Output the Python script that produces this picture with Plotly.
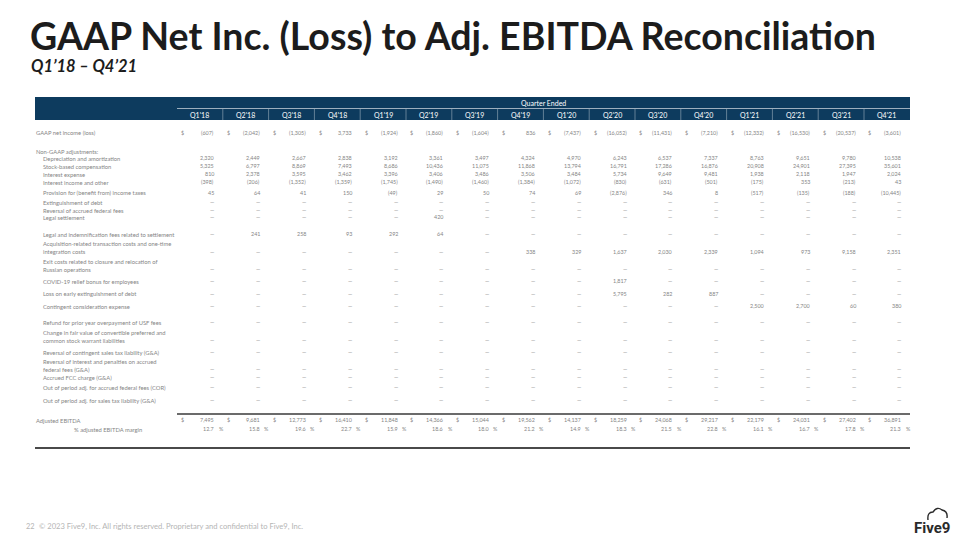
import plotly.graph_objects as go

# ---------------- data ----------------
quarters = ["Q1'18", "Q2'18", "Q3'18", "Q4'18", "Q1'19", "Q2'19", "Q3'19", "Q4'19",
            "Q1'20", "Q2'20", "Q3'20", "Q4'20", "Q1'21", "Q2'21", "Q3'21", "Q4'21"]
N = None
gaap_net_income = [-607, -2042, -1305, 3733, -1924, -1860, -1604, 836,
                   -7437, -16052, -11431, -7210, -12332, -16530, -20537, -3601]
depreciation = [2320, 2449, 2667, 2838, 3192, 3361, 3497, 4324, 4970, 6243, 6537, 7337, 8763, 9651, 9780, 10538]
stock_comp = [5325, 6797, 8869, 7493, 8686, 10436, 11075, 11868, 13794, 16791, 17286, 16876, 20908, 24901, 27395, 35601]
interest_expense = [810, 2378, 3595, 3462, 3396, 3406, 3486, 3506, 3484, 5734, 9649, 9481, 1938, 2118, 1947, 2024]
interest_income = [-398, -206, -1352, -1359, -1745, -1490, -1460, -1384, -1072, -830, -631, -501, -175, 353, -213, 43]
income_taxes = [45, 64, 41, 150, -49, 29, 50, 74, 69, -2876, 346, 8, -517, -135, -188, -10445]
extinguishment = [N] * 16
reversal_fed_fees = [N] * 16
legal_settlement = [N, N, N, N, N, 420, N, N, N, N, N, N, N, N, N, N]
legal_fees = [N, 241, 258, 93, 292, 64, N, N, N, N, N, N, N, N, N, N]
acquisition_costs = [N, N, N, N, N, N, N, 338, 329, 1637, 2030, 2339, 1094, 973, 9158, 2351]
exit_costs = [N] * 16
covid_bonus = [N, N, N, N, N, N, N, N, N, 1817, N, N, N, N, N, N]
loss_early_ext = [N, N, N, N, N, N, N, N, N, 5795, 282, 887, N, N, N, N]
contingent_consideration = [N, N, N, N, N, N, N, N, N, N, N, N, 2500, 2700, 60, 380]
usf_refund = [N] * 16
fair_value_change = [N] * 16
reversal_sales_tax = [N] * 16
reversal_interest_penalties = [N] * 16
accrued_fcc = [N] * 16
oop_federal_fees = [N] * 16
oop_sales_tax = [N] * 16
adjusted_ebitda = [7495, 9681, 12773, 16410, 11848, 14366, 15044, 19562,
                   14137, 18259, 24068, 29217, 22179, 24031, 27402, 36891]
ebitda_margin = [12.7, 15.8, 19.6, 22.7, 15.9, 18.6, 18.0, 21.2, 14.9, 18.3, 21.5, 22.8, 16.1, 16.7, 17.8, 21.3]

row_labels = [
    "Depreciation and amortization", "Stock-based compensation", "Interest expense",
    "Interest income and other", "Provision for (benefit from) income taxes",
    "Extinguishment of debt", "Reversal of accrued federal fees", "Legal settlement",
    "Legal and indemnification fees related to settlement",
    "Acquisition-related transaction costs and one-time<br>integration costs",
    "Exit costs related to closure and relocation of<br>Russian operations",
    "COVID-19 relief bonus for employees", "Loss on early extinguishment of debt",
    "Contingent consideration expense", "Refund for prior year overpayment of USF fees",
    "Change in fair value of convertible preferred and<br>common stock warrant liabilities",
    "Reversal of contingent sales tax liability (G&A)",
    "Reversal of interest and penalties on accrued<br>federal fees (G&A)",
    "Accrued FCC charge (G&A)", "Out of period adj. for accrued federal fees (COR)",
    "Out of period adj. for sales tax liability (G&A)",
]
row_values = [depreciation, stock_comp, interest_expense, interest_income, income_taxes,
              extinguishment, reversal_fed_fees, legal_settlement, legal_fees, acquisition_costs,
              exit_costs, covid_bonus, loss_early_ext, contingent_consideration, usf_refund,
              fair_value_change, reversal_sales_tax, reversal_interest_penalties, accrued_fcc,
              oop_federal_fees, oop_sales_tax]

# ---------------- layout constants ----------------
row_y = [158.3, 166.3, 174.2, 182.3, 192.7, 202.3, 210.0, 217.3, 234.0, 251.5, 269.3,
         281.0, 293.7, 306.0, 322.3, 340.0, 352.0, 369.0, 377.3, 387.0, 400.0]
COL0, COLW = 177.0, 45.8
VAL_OFF, DOL_OFF = 38.3, 3.3
LX, IX = 35.0, 42.0
TXT = "#858585"
NAVY = "#0d3b5e"
FONT = "Lato"
FS = 5.4      # value font size
FSL = 5.8     # row label font size
PAGE_PAD = 8  # default body margin of the html page


def fmt(v):
    if v is None:
        return "\u2014"
    s = f"{abs(v):,}"
    return f"({s})" if v < 0 else s


fig = go.Figure()
fig.add_trace(go.Scatter(x=[PAGE_PAD, 960], y=[PAGE_PAD, 540], mode="markers",
                         marker=dict(opacity=0), hoverinfo="skip", showlegend=False))

ann = []
shapes = []


def text(x, y, s, size=FS, color=TXT, xa="left", bold=False, family=FONT, italic=False):
    if bold:
        s = f"<b>{s}</b>"
    if italic:
        s = f"<i>{s}</i>"
    ann.append(dict(x=x, y=y, xref="x", yref="y", text=s, showarrow=False, xanchor=xa,
                    yanchor="middle", align="left", borderpad=0,
                    font=dict(size=size, color=color, family=family)))


# title
text(29, 35.5, "GAAP Net Inc. (Loss) to Adj. EBITDA Reconciliation", size=37.5, color="#1c1c1c",
     bold=True)
text(30, 65.5, "Q1\u201918 \u2013 Q4\u201921", size=16.5, color="#1c1c1c", bold=True, italic=True)

# header band
shapes.append(dict(type="rect", xref="x", yref="y", x0=35, x1=910, y0=97, y1=120,
                   fillcolor=NAVY, line=dict(width=0), layer="below"))
shapes.append(dict(type="line", xref="x", yref="y", x0=COL0, x1=910, y0=108.5, y1=108.5,
                   line=dict(color="rgba(255,255,255,0.75)", width=0.8)))
for i in range(1, len(quarters)):
    xb = COL0 + i * COLW
    shapes.append(dict(type="line", xref="x", yref="y", x0=xb, x1=xb, y0=109, y1=120,
                       line=dict(color="rgba(255,255,255,0.45)", width=0.8)))
text((COL0 + 910) / 2, 103, "Quarter Ended", size=7, color="white", xa="center")
for i, q in enumerate(quarters):
    text(COL0 + i * COLW + COLW / 2, 114.5, q, size=7, color="white", xa="center")

# GAAP net income row
text(LX, 132.7, "GAAP net income (loss)", size=FSL)
for i, v in enumerate(gaap_net_income):
    left = COL0 + i * COLW
    text(left + DOL_OFF, 132.7, "$")
    text(left + VAL_OFF, 132.7, fmt(v), xa="right")

text(LX, 151.7, "Non-GAAP adjustments:", size=FSL)

for lab, vals, y in zip(row_labels, row_values, row_y):
    nlines = lab.count("<br>") + 1
    ly = y - (nlines - 1) * 3.7
    text(IX, ly, lab, size=FSL)
    for i, v in enumerate(vals):
        left = COL0 + i * COLW
        text(left + VAL_OFF, y, fmt(v), xa="right")

# totals
shapes.append(dict(type="line", xref="x", yref="y", x0=COL0, x1=910, y0=414, y1=414,
                   line=dict(color="#3a3a3a", width=1.6)))
text(LX, 420.3, "Adjusted EBITDA", size=FSL)
text(73, 429, "% adjusted EBITDA margin", size=FSL)
for i, (v, m) in enumerate(zip(adjusted_ebitda, ebitda_margin)):
    left = COL0 + i * COLW
    text(left + DOL_OFF, 420.3, "$")
    text(left + VAL_OFF, 420.3, fmt(v), xa="right")
    text(left + VAL_OFF, 429, f"{m:.1f}", xa="right")
    text(left + VAL_OFF + 2.2, 429, "%")
shapes.append(dict(type="line", xref="x", yref="y", x0=35, x1=910, y0=448, y1=448,
                   line=dict(color="#4a4a4a", width=1.8)))

# footer
text(25, 526, "22", size=7.4, color="#b5b5b5")
text(38, 526, "\u00a9 2023 Five9, Inc. All rights reserved. Proprietary and confidential to Five9, Inc.",
     size=7.6, color="#b5b5b5")
text(913, 527.5, "Five9", size=15, color="#2a2a2a", bold=True, family="Roboto")
shapes.append(dict(type="path", xref="x", yref="y",
                   path="M 928 520 Q 927 512 933 512 Q 937 506 942 510 Q 948 511 947 518",
                   line=dict(color="#2a2a2a", width=1.4)))

fig.update_layout(
    width=960 - PAGE_PAD, height=540 - PAGE_PAD, margin=dict(l=0, r=0, t=0, b=0),
    paper_bgcolor="white", plot_bgcolor="white",
    xaxis=dict(range=[PAGE_PAD, 960], visible=False, fixedrange=True),
    yaxis=dict(range=[540, PAGE_PAD], visible=False, fixedrange=True),
    annotations=ann, shapes=shapes, showlegend=False,
)
fig.write_html("out.html")
